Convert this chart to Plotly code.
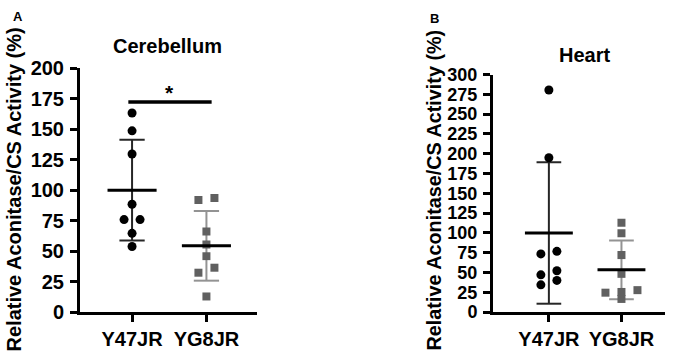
import numpy as np
import plotly.graph_objects as go

# ---- data -------------------------------------------------------------
groups = ["Y47JR", "YG8JR"]

cereb_y47jr = [163.3, 148.7, 129.7, 88.5, 75.9, 75.9, 64.6, 53.8]
cereb_yg8jr = [93.6, 92.0, 66.2, 55.4, 45.9, 36.4, 32.3, 12.8]

heart_y47jr = [280.6, 194.9, 76.7, 73.5, 52.2, 47.0, 40.0, 34.4]
heart_yg8jr = [112.7, 99.6, 72.0, 48.3, 27.7, 25.4, 24.5, 16.6]

cereb_ticks = [0, 25, 50, 75, 100, 125, 150, 175, 200]
heart_ticks = [0, 25, 50, 75, 100, 125, 150, 175, 200, 225, 250, 275, 300]

# ---- layout geometry (pixels) -----------------------------------------
W, H = 675, 363
FONT = "Liberation Sans, Arial, sans-serif"


def xdom(left, right):
    return [left / W, right / W]


def ydom(bottom, top):
    return [(H - bottom) / H, (H - top) / H]


panels = [
    dict(name="Cerebellum", letter="A", a=cereb_y47jr, b=cereb_yg8jr,
         xd=xdom(80, 257), yd=ydom(320.5, 61), xr=[-0.70, 1.68],
         yr=[0, 200], ticks=cereb_ticks, tickfont=20,
         ax="x", ay="y"),
    dict(name="Heart", letter="B", a=heart_y47jr, b=heart_yg8jr,
         xd=xdom(493, 665), yd=ydom(320.5, 67.7), xr=[-0.77, 1.60],
         yr=[0, 300], ticks=heart_ticks, tickfont=18,
         ax="x2", ay="y2"),
]


def swarm_offsets(vals, px_per_unit, px_per_xunit, diam=9.0, step=16.0):
    """Group points that would overlap into rows and spread each row
    symmetrically around the category centre (in x-axis units)."""
    order = np.argsort(vals)[::-1]
    offs = np.zeros(len(vals))
    rows, row = [], []
    for i in order:
        if row and (vals[row[0]] - vals[i]) * px_per_unit >= diam:
            rows.append(row)
            row = []
        row.append(i)
    rows.append(row)
    for r in rows:
        r = sorted(r, key=lambda k: vals[k])  # lower value on the left
        n = len(r)
        for j, k in enumerate(r):
            offs[k] = (j - (n - 1) / 2) * step / px_per_xunit
    return offs


fig = go.Figure()

for p in panels:
    dom_px_w = (p["xd"][1] - p["xd"][0]) * W
    dom_px_h = (p["yd"][1] - p["yd"][0]) * H
    px_x = dom_px_w / (p["xr"][1] - p["xr"][0])
    px_y = dom_px_h / (p["yr"][1] - p["yr"][0])

    for gi, (vals, color, symbol, size, ebcol) in enumerate([
        (p["a"], "#000000", "circle", 9, "#262626"),
        (p["b"], "#606060", "square", 8, "#939393"),
    ]):
        v = np.asarray(vals, dtype=float)
        m = v.mean()
        sd = v.std(ddof=1)
        cap = 0.17
        half = 0.33
        # SD whisker with caps
        fig.add_trace(go.Scatter(
            x=[gi, gi, None, gi - cap, gi + cap, None, gi - cap, gi + cap],
            y=[m - sd, m + sd, None, m + sd, m + sd, None, m - sd, m - sd],
            mode="lines", line=dict(color=ebcol, width=2),
            xaxis=p["ax"], yaxis=p["ay"], showlegend=False, hoverinfo="skip"))
        # individual points
        offs = swarm_offsets(v, px_y, px_x)
        fig.add_trace(go.Scatter(
            x=gi + offs, y=v, mode="markers",
            marker=dict(color=color, symbol=symbol, size=size, line=dict(width=0)),
            xaxis=p["ax"], yaxis=p["ay"], showlegend=False))
        # mean line
        fig.add_trace(go.Scatter(
            x=[gi - half, gi + half], y=[m, m], mode="lines",
            line=dict(color="#000000", width=3),
            xaxis=p["ax"], yaxis=p["ay"], showlegend=False, hoverinfo="skip"))

    suffix = p["ax"][1:]
    xkey = "xaxis" + suffix
    ykey = "yaxis" + suffix
    fig.update_layout(**{
        xkey: dict(domain=p["xd"], range=p["xr"], anchor=p["ay"],
                   tickvals=[0, 1], ticktext=groups,
                   showline=True, linecolor="black", linewidth=3,
                   ticks="outside", ticklen=7, tickwidth=2.5, tickcolor="black",
                   showgrid=False, zeroline=False,
                   tickfont=dict(family=FONT, size=20, color="black", weight="bold")),
        ykey: dict(domain=p["yd"], range=p["yr"], anchor=p["ax"],
                   tickvals=p["ticks"],
                   showline=True, linecolor="black", linewidth=3,
                   ticks="outside", ticklen=7, tickwidth=2.5, tickcolor="black",
                   showgrid=False, zeroline=False, ticklabelstandoff=2,
                   tickfont=dict(family=FONT, size=p["tickfont"], color="black",
                                 weight="bold")),
    })

# significance bar on the cerebellum panel
fig.add_trace(go.Scatter(x=[-0.05, 1.07], y=[172.3, 172.3], mode="lines",
                         line=dict(color="black", width=3.5),
                         xaxis="x", yaxis="y", showlegend=False, hoverinfo="skip"))
fig.add_annotation(x=0.5, y=180, xref="x", yref="y", text="<b>*</b>",
                   showarrow=False, font=dict(family=FONT, size=21, color="black"),
                   yanchor="middle")

label = "Relative Aconitase/CS Activity (%)"
annots = [
    # panel titles
    dict(x=167 / W, y=1 - 37 / H, text="<b>Cerebellum</b>", size=20),
    dict(x=584 / W, y=1 - 47 / H, text="<b>Heart</b>", size=20),
    # panel letters
    dict(x=18 / W, y=1 - 6 / H, text="<b>A</b>", size=13),
    dict(x=434 / W, y=1 - 8 / H, text="<b>B</b>", size=13),
]
for a in annots:
    fig.add_annotation(x=a["x"], y=a["y"], xref="paper", yref="paper",
                       text=a["text"], showarrow=False,
                       xanchor="center", yanchor="middle",
                       font=dict(family=FONT, size=a["size"], color="black"))

for xc, yc, fs in [(14, 190, 20), (434, 191, 19.8)]:
    fig.add_annotation(x=xc / W, y=1 - yc / H, xref="paper", yref="paper",
                       text="<b>" + label + "</b>", textangle=-90, showarrow=False,
                       xanchor="center", yanchor="middle",
                       font=dict(family=FONT, size=fs, color="black"))

fig.update_layout(width=W, height=H, margin=dict(l=0, r=0, t=0, b=0),
                  paper_bgcolor="white", plot_bgcolor="white")

fig.write_html("out.html")
